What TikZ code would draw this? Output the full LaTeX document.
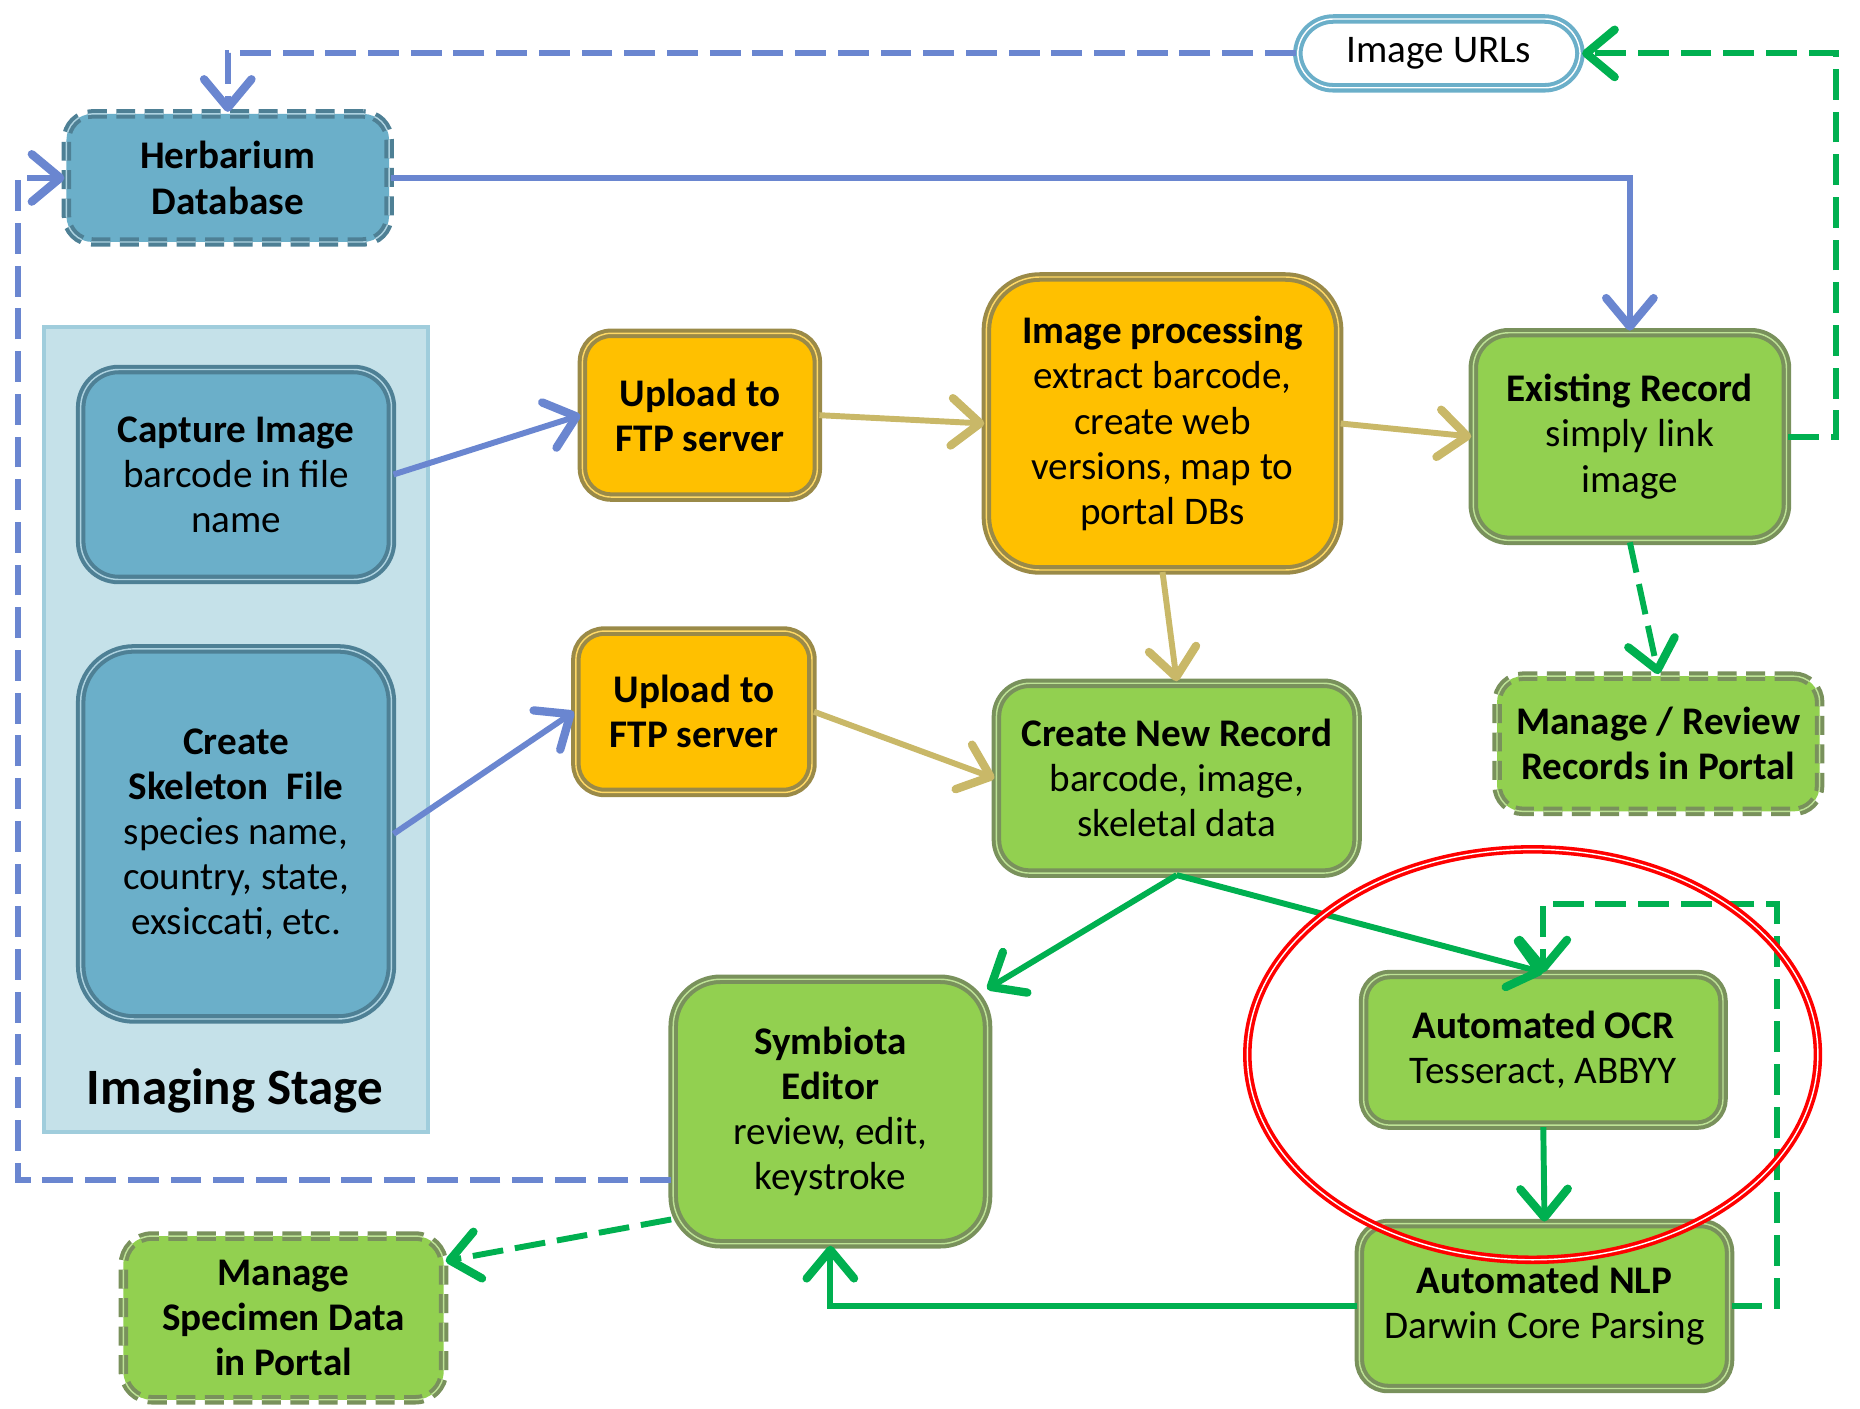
\documentclass[tikz,border=0pt]{standalone}
\usepackage{fontspec}
\setmainfont{Carlito}
\usetikzlibrary{arrows.meta,positioning,shapes.geometric}

\definecolor{dbfill}{RGB}{107,175,201}
\definecolor{dbdraw}{RGB}{78,128,149}
\definecolor{stagefill}{RGB}{197,225,233}
\definecolor{stagedraw}{RGB}{160,205,220}
\definecolor{ftpfill}{RGB}{255,192,0}
\definecolor{ftpdraw}{RGB}{154,138,72}
\definecolor{recfill}{RGB}{146,208,80}
\definecolor{recdraw}{RGB}{121,145,92}
\definecolor{bluearr}{RGB}{106,134,208}
\definecolor{goldarr}{RGB}{201,184,104}
\definecolor{greenarr}{RGB}{0,176,80}

\begin{document}
\begin{tikzpicture}[
  x=1pt, y=-1pt,
  >={Straight Barb[length=24pt,width=40pt,line width=7pt,round]},
  font=\fontsize{33}{38}\selectfont,
  box/.style={line width=3.4pt, double distance=1.2pt,
              align=center, inner sep=0pt},
  dbbox/.style={box, fill=dbfill, draw=dbdraw, double=dbfill!55!white},
  ftpbox/.style={box, fill=ftpfill, draw=ftpdraw, double=ftpfill!60!white},
  recbox/.style={box, fill=recfill, draw=recdraw, double=recfill!60!white},
  dashbox/.style={dash pattern=on 16pt off 8pt},
  blueln/.style={->, draw=bluearr, line width=5pt},
  goldln/.style={->, draw=goldarr, line width=5pt},
  greenln/.style={->, draw=greenarr, line width=5pt},
  dashln/.style={dash pattern=on 26pt off 10pt},
]
  \useasboundingbox (0,0) rectangle (1568,1187);

  %% Imaging stage panel
  \draw[fill=stagefill, draw=stagedraw, line width=3.5pt] (37,276) rectangle (361,954);
  \node[font=\fontsize{43}{48}\selectfont\bfseries] (stagelbl) at (198,920) {Imaging Stage};

  %% Nodes
  \node[dbbox, dashbox, rounded corners=22pt, minimum width=272pt, minimum height=108pt] (herb)
    at (192,150) {\textbf{Herbarium}\\\textbf{Database}};
  \node[box, draw=dbfill, double=white, fill=white, rounded corners=30pt,
        minimum width=238pt, minimum height=58pt] (urls) at (1213,45) {Image URLs};
  \node[dbbox, rounded corners=32pt, minimum width=262pt, minimum height=177pt] (capt)
    at (199,400) {\textbf{Capture Image}\\barcode in file\\name};
  \node[dbbox, rounded corners=45pt, minimum width=262pt, minimum height=312pt] (skel)
    at (199,703) {\textbf{Create}\\\textbf{Skeleton\ \ File}\\species name,\\country, state,\\exsiccati, etc.};
  \node[ftpbox, rounded corners=24pt, minimum width=198pt, minimum height=138pt] (ftpa)
    at (590,350) {\textbf{Upload to}\\\textbf{FTP server}};
  \node[ftpbox, rounded corners=24pt, minimum width=199pt, minimum height=136pt] (ftpb)
    at (585,600) {\textbf{Upload to}\\\textbf{FTP server}};
  \node[ftpbox, rounded corners=45pt, minimum width=297pt, minimum height=247pt] (improc)
    at (980,357) {\textbf{Image processing}\\extract barcode,\\create web\\versions, map to\\portal DBs};
  \node[recbox, rounded corners=30pt, minimum width=264pt, minimum height=175pt] (exist)
    at (1374,368) {\textbf{Existing Record}\\simply link\\image};
  \node[recbox, dashbox, rounded corners=22pt, minimum width=272pt, minimum height=114pt] (review)
    at (1398,627) {\textbf{Manage / Review}\\\textbf{Records in Portal}};
  \node[recbox, rounded corners=28pt, minimum width=304pt, minimum height=160pt] (newrec)
    at (992,656) {\textbf{Create New Record}\\barcode, image,\\skeletal data};
  \node[recbox, rounded corners=40pt, minimum width=265pt, minimum height=223pt] (symb)
    at (700,937) {\textbf{Symbiota}\\\textbf{Editor}\\review, edit,\\keystroke};
  \node[recbox, rounded corners=22pt, minimum width=303pt, minimum height=127pt] (ocr)
    at (1301,885) {\textbf{Automated OCR}\\Tesseract, ABBYY};
  \node[recbox, rounded corners=24pt, minimum width=312pt, minimum height=139pt] (nlp)
    at (1302,1101) {\textbf{Automated NLP}\\Darwin Core Parsing};
  \node[recbox, dashbox, rounded corners=24pt, minimum width=270pt, minimum height=138pt] (spec)
    at (239,1111) {\textbf{Manage}\\\textbf{Specimen Data}\\\textbf{in Portal}};

  %% Arrows -- blue
  \draw[blueln, dashln] (urls.west) -| (herb.north);
  \draw[blueln] (herb.east) -| (exist.north);
  \draw[blueln] (capt.east) -- (ftpa.west);
  \draw[blueln] (skel.east) -- (ftpb.west);
  \draw[blueln, dashln] ([yshift=-58pt]symb.west) -- ++(-551,0) |- (herb.west);

  %% Arrows -- gold
  \draw[goldln] (ftpa.east) -- (improc.west);
  \draw[goldln] (improc.east) -- (exist.west);
  \draw[goldln] (improc.south) -- (newrec.north);
  \draw[goldln] (ftpb.east) -- (newrec.west);

  %% Arrows -- green
  \draw[greenln, dashln] (exist.east) -- ++(40,0) |- (urls.east);
  \draw[greenln, dashln] (exist.south) -- (review.north);
  \draw[greenln] (newrec.south) -- ([xshift=-2pt,yshift=-10pt]symb.north east);
  \draw[greenln] (newrec.south) -- (ocr.north);
  \draw[greenln] (ocr.south) -- (nlp.north);
  \draw[greenln] (nlp.west) -| (symb.south);
  \draw[greenln, dashln] (nlp.east) -- ++(38,0) |- ([yshift=58pt]ocr.north) -- (ocr.north);
  \draw[greenln, dashln] ([yshift=-91pt]symb.west) -- ([yshift=48pt]spec.east);

  %% Highlight
  \node[ellipse, draw=red, line width=3pt, double=white, double distance=1.2pt,
        minimum width=481pt, minimum height=346pt, inner sep=0pt] (focus) at (1292,889) {};
\end{tikzpicture}
\end{document}
